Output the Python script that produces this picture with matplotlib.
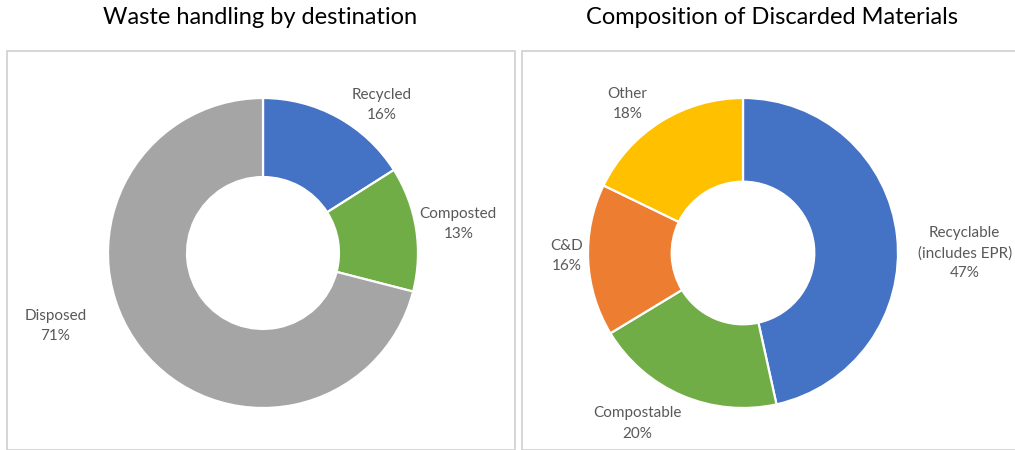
import matplotlib
matplotlib.use("Agg")
import matplotlib.pyplot as plt
from matplotlib.patches import Rectangle

plt.rcParams['font.family'] = ['Lato', 'DejaVu Sans']

# Waste handling by destination
dest_labels = ["Recycled", "Composted", "Disposed"]
dest_values = [16, 13, 71]
dest_colors = ["#4472C4", "#70AD47", "#A5A5A5"]

# Composition of discarded materials
comp_labels = ["Recyclable\n(includes EPR)", "Compostable", "C&D", "Other"]
comp_values = [47, 20, 16, 18]
comp_colors = ["#4472C4", "#70AD47", "#ED7D31", "#FFC000"]

W, H = 1015, 450
fig = plt.figure(figsize=(W / 100, H / 100), dpi=100)

def px_rect(x0, y0_top, w, h):
    # pixel box (top-left origin) -> figure fraction
    return [x0 / W, (H - y0_top - h) / H, w / W, h / H]

# panel frames
for x0, w in [(7, 508), (522, 495)]:
    fig.patches.append(Rectangle((x0 / W, 0), w / W, (H - 51) / H,
                                 transform=fig.transFigure, fill=False,
                                 edgecolor="#D0D0D0", linewidth=1.2))

fig.text(260 / W, 1 - 18 / H, "Waste handling by destination",
         ha="center", va="center", fontsize=17, color="#000000")
fig.text(772 / W, 1 - 18 / H, "Composition of Discarded Materials",
         ha="center", va="center", fontsize=17, color="#000000")

R = 155

def donut(cx, cy, values, colors, labels, label_pos, ring):
    ax = fig.add_axes(px_rect(cx - R, cy - R, 2 * R, 2 * R))
    ax.pie(values, colors=colors, startangle=90, counterclock=False,
           radius=1.0, wedgeprops=dict(width=ring, edgecolor="white",
                                       linewidth=1.6))
    ax.set_xlim(-1, 1)
    ax.set_ylim(-1, 1)
    ax.set_aspect("equal")
    ax.axis("off")
    for lab, v, (lx, ly) in zip(labels, values, label_pos):
        ax.text(lx, ly, f"{lab}\n{v}%",
                ha="center", va="center", fontsize=11, color="#595959",
                linespacing=1.55, clip_on=False)
    return ax

donut(263, 253, dest_values, dest_colors, dest_labels,
      [(0.765, 0.955), (1.26, 0.19), (-1.34, -0.47)], 0.51)
donut(743, 253, comp_values, comp_colors, comp_labels,
      [(1.43, 0.0), (-0.68, -1.10), (-1.14, -0.02), (-0.745, 0.96)], 0.54)

fig.savefig("out.png", dpi=100, facecolor="white")
